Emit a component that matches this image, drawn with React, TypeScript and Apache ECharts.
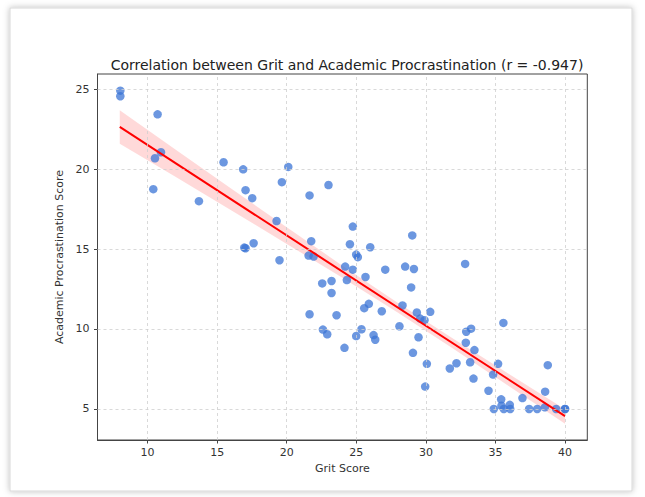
import React, { useEffect, useRef } from "react";
import * as echarts from "echarts";

const gritScores = [
  8.04, 8.04, 10.72, 10.96, 10.53, 10.41, 13.69, 15.46, 16.87, 17.04, 17.52, 19.65, 20.11, 19.27,
  16.95, 17.04, 17.62, 21.64, 23.0, 24.75, 21.76, 24.54, 26.0, 29.02, 19.48,
  21.57, 21.93, 24.99, 25.11, 24.2, 24.75, 24.32, 25.66, 27.08, 28.51, 29.14, 28.94,
  22.55, 23.22, 23.22, 32.82, 21.64, 23.58, 25.57, 25.9, 26.83, 28.32, 29.35, 29.59, 29.9,
  30.31, 22.6, 22.91, 24.15, 24.99, 25.37, 26.24, 26.36, 28.1, 29.47, 29.07, 30.07, 29.95,
  31.72, 32.2, 32.9, 33.25, 32.87, 33.49, 33.18, 33.42,
  35.57, 35.19, 34.83, 34.5, 35.41, 35.43, 36.03, 34.88, 35.6, 36.06, 36.94, 37.42, 38.0,
  38.57, 38.76, 38.55, 39.36, 40.0, 40.0,
];
const procrastinationScores = [
  24.9, 24.55, 23.42, 21.05, 20.67, 18.74, 17.99, 20.42, 19.98, 18.68, 18.18, 19.18, 20.13, 16.75,
  15.09, 15.05, 15.36, 18.35, 19.0, 16.4, 15.49, 15.3, 15.11, 15.85, 14.3,
  14.59, 14.53, 14.65, 14.49, 13.9, 13.71, 13.06, 13.25, 13.71, 13.9, 13.75, 12.6,
  12.85, 13.0, 12.25, 14.07, 10.92, 10.86, 11.3, 11.57, 11.11, 11.47, 11.03, 10.65, 10.55,
  11.07, 9.96, 9.67, 8.82, 9.56, 9.98, 9.62, 9.33, 10.17, 9.48, 8.51, 7.82, 6.4,
  7.53, 7.86, 9.83, 10.02, 9.14, 8.68, 7.92, 6.9,
  10.38, 7.82, 7.15, 6.14, 5.6, 5.2, 5.26, 5.0, 5.0, 5.0, 5.68, 5.0, 5.0,
  6.08, 7.74, 5.1, 5.0, 5.0, 5.0,
];

const xTicks = [10, 15, 20, 25, 30, 35, 40];
const yTicks = [5, 10, 15, 20, 25];

const fitX = [8, 40];
const fitY = [22.63, 4.55];

const bandX = [8, 12, 16, 20, 24, 28, 32, 36, 40];
const bandUpper = [23.68, 21.22, 18.79, 16.36, 13.96, 11.62, 9.37, 7.17, 4.98];
const bandLower = [21.58, 19.52, 17.43, 15.32, 13.2, 11.02, 8.75, 6.41, 4.08];

const FONT = "DejaVu Sans";

export default function App() {
  const ref = useRef<HTMLDivElement>(null);
  useEffect(() => {
    document.body.style.margin = "0";
    const chart = echarts.init(ref.current!, null, { renderer: "svg" });
    const points = gritScores.map((g, i) => [g, procrastinationScores[i]]);
    const option: any = {
      animation: false,
      backgroundColor: "#ffffff",
      graphic: [
        {
          type: "rect",
          z: -10,
          shape: { x: 10, y: 8, width: 622, height: 483 },
          style: {
            fill: "#ffffff",
            stroke: "#d8d8d8",
            lineWidth: 1,
            shadowBlur: 6,
            shadowColor: "rgba(0,0,0,0.25)",
            shadowOffsetX: 0,
            shadowOffsetY: 0,
          },
        },
      ],
      title: {
        text: "Correlation between Grit and Academic Procrastination (r = -0.947)",
        left: 342,
        textAlign: "center",
        top: 53,
        textStyle: { fontFamily: FONT, fontSize: 14, fontWeight: "normal", color: "#222" },
      },
      grid: {
        left: 97.5,
        right: 57.7,
        top: 74,
        bottom: 57,
        show: true,
        borderColor: "#444",
        borderWidth: 1,
        backgroundColor: "transparent",
      },
      xAxis: {
        type: "value",
        min: 6.4,
        max: 41.6,
        splitNumber: 7,
        name: "Grit Score",
        nameLocation: "middle",
        nameGap: 23,
        nameTextStyle: { fontFamily: FONT, fontSize: 11, color: "#333" },
        axisLine: { show: true, lineStyle: { color: "#444", width: 1 } },
        axisTick: { show: true, length: 3.5, customValues: xTicks, lineStyle: { color: "#444" } },
        axisLabel: {
          customValues: xTicks,
          margin: 7,
          fontFamily: FONT,
          fontSize: 11,
          color: "#333",
        },
        splitLine: { show: false },
      },
      yAxis: {
        type: "value",
        min: 3.06,
        max: 25.94,
        splitNumber: 5,
        name: "Academic Procrastination Score",
        nameLocation: "middle",
        nameRotate: 90,
        nameGap: 29,
        nameTextStyle: { fontFamily: FONT, fontSize: 11, color: "#333" },
        axisLine: { show: true, lineStyle: { color: "#444", width: 1 } },
        axisTick: { show: true, length: 3.5, customValues: yTicks, lineStyle: { color: "#444" } },
        axisLabel: {
          customValues: yTicks,
          margin: 8,
          fontFamily: FONT,
          fontSize: 11,
          color: "#333",
        },
        splitLine: { show: false },
      },
      series: [
        {
          type: "line",
          data: [],
          z: 1,
          silent: true,
          markLine: {
            silent: true,
            symbol: "none",
            label: { show: false },
            lineStyle: { color: "#cfcfcf", type: [3, 3], width: 0.8 },
            data: [
              ...xTicks.map((v) => ({ xAxis: v })),
              ...yTicks.map((v) => ({ yAxis: v })),
            ],
          },
        },
        {
          type: "custom",
          z: 2,
          silent: true,
          data: [0],
          renderItem: (_params: any, api: any) => {
            const up = bandX.map((x, i) => api.coord([x, bandUpper[i]]));
            const lo = bandX
              .map((x, i) => api.coord([x, bandLower[i]]))
              .reverse();
            return {
              type: "polygon",
              shape: { points: up.concat(lo) },
              style: { fill: "rgba(255,0,0,0.15)", stroke: "none" },
            };
          },
        },
        {
          type: "scatter",
          z: 3,
          data: points,
          symbolSize: 8.5,
          itemStyle: { color: "#3b74d6", opacity: 0.75 },
        },
        {
          type: "line",
          z: 4,
          data: fitX.map((x, i) => [x, fitY[i]]),
          symbol: "none",
          lineStyle: { color: "#ff0000", width: 2 },
        },
      ],
    };
    chart.setOption(option);
    return () => chart.dispose();
  }, []);
  return <div ref={ref} style={{ width: 645, height: 497 }} />;
}
